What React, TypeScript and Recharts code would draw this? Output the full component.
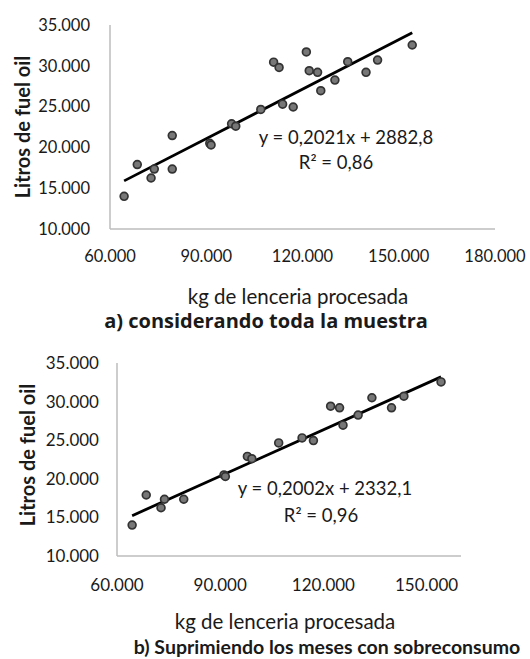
import { ReferenceLine, Scatter, ScatterChart, XAxis, YAxis } from "recharts";

// kg de lencería procesada / litros de fuel oil por mes
const kgLenceria = [
  64400, 68500, 72800, 73800, 79400, 79400, 91100, 91500, 97900, 99200, 107000, 111000,
  112700, 113800, 117100, 121200, 122100, 124700, 125700, 130100, 134100, 139800, 143400, 154200
];
const litrosFuelOil = [
  14000, 17900, 16250, 17350, 21450, 17350, 20500, 20300, 22900, 22600, 24650, 30450,
  29800, 25300, 24950, 31700, 29400, 29200, 26950, 28250, 30500, 29200, 30700, 32550
];
// meses con sobreconsumo (índices), suprimidos en b)
const mesesSobreconsumo = [4, 11, 12, 15];

const yTicks = [10000, 15000, 20000, 25000, 30000, 35000];
const xTicksA = [60000, 90000, 120000, 150000, 180000];
const xTicksB = [60000, 90000, 120000, 150000];

const trendA = { slope: 0.2021, intercept: 2882.8, eq: "y = 0,2021x + 2882,8", r2: "R² = 0,86" };
const trendB = { slope: 0.2002, intercept: 2332.1, eq: "y = 0,2002x + 2332,1", r2: "R² = 0,96" };

const FONT = "Lato, 'Open Sans', sans-serif";
const TEXT = "#1a1a1a";
const AXIS = "#bdbdbd";

interface Point {
  x: number;
  y: number;
}

const allPoints: Point[] = kgLenceria.map((x, i) => ({ x, y: litrosFuelOil[i] }));
const cleanPoints: Point[] = allPoints.filter((_, i) => !mesesSobreconsumo.includes(i));

function formatMiles(value: number): string {
  return String(value).replace(/\B(?=(\d{3})+(?!\d))/g, ".");
}

function Dot(props: { cx?: number; cy?: number }) {
  const { cx, cy } = props;
  if (cx == null || cy == null) return null;
  return <circle cx={cx} cy={cy} r={3.9} fill="#777777" stroke="#333333" strokeWidth={1.7} />;
}

interface TxtProps {
  x: number;
  y: number;
  size: number;
  bold?: boolean;
  rotate?: boolean;
  font?: string;
  children: string;
}

function Txt({ x, y, size, bold, rotate, font, children }: TxtProps) {
  return (
    <div
      style={{
        position: "absolute",
        left: x,
        top: y,
        transform: `translate(-50%, -50%)${rotate ? " rotate(-90deg)" : ""}`,
        whiteSpace: "nowrap",
        fontFamily: font ?? FONT,
        fontSize: size,
        fontWeight: bold ? 700 : 400,
        lineHeight: 1,
        color: TEXT
      }}
    >
      {children}
    </div>
  );
}

interface PanelProps {
  points: Point[];
  top: number;
  height: number;
  margin: { top: number; right: number; bottom: number; left: number };
  yAxisWidth: number;
  xDomain: [number, number];
  xTicks: number[];
  trend: { slope: number; intercept: number };
  yTickMargin: number;
  xTickMargin: number;
  tickSize: number;
}

function Panel({ points, top, height, margin, yAxisWidth, xDomain, xTicks, trend, yTickMargin, xTickMargin, tickSize }: PanelProps) {
  const xs = points.map((p) => p.x);
  const x0 = Math.min(...xs);
  const x1 = Math.max(...xs);
  const segment = [
    { x: x0, y: trend.slope * x0 + trend.intercept },
    { x: x1, y: trend.slope * x1 + trend.intercept }
  ];

  return (
    <div style={{ position: "absolute", left: 0, top }}>
      <ScatterChart width={530} height={height} margin={margin}>
        <XAxis
          type="number"
          dataKey="x"
          domain={xDomain}
          ticks={xTicks}
          allowDataOverflow
          tickFormatter={formatMiles}
          tickLine={false}
          tickSize={0}
          tickMargin={xTickMargin}
          height={40}
          axisLine={{ stroke: AXIS, strokeWidth: 1.5 }}
          tick={{ fill: TEXT, fontSize: tickSize, fontFamily: FONT }}
        />
        <YAxis
          type="number"
          dataKey="y"
          domain={[10000, 35000]}
          ticks={yTicks}
          allowDataOverflow
          tickFormatter={formatMiles}
          tickLine={false}
          tickSize={0}
          tickMargin={yTickMargin}
          width={yAxisWidth}
          axisLine={{ stroke: AXIS, strokeWidth: 1.5 }}
          tick={{ fill: TEXT, fontSize: tickSize, fontFamily: FONT }}
        />
        <Scatter data={points} shape={<Dot />} isAnimationActive={false} />
        <ReferenceLine segment={segment} stroke="#000000" strokeWidth={2.8} ifOverflow="visible" />
      </ScatterChart>
    </div>
  );
}

export default function App() {
  return (
    <div style={{ position: "absolute", left: 0, top: 0, width: 530, height: 659, background: "#ffffff", overflow: "hidden" }}>
      <Panel
        points={allPoints}
        top={0}
        height={330}
        margin={{ top: 25, right: 35, bottom: 61, left: 0 }}
        yAxisWidth={110}
        xDomain={[60000, 180000]}
        xTicks={xTicksA}
        trend={trendA}
        yTickMargin={20}
        xTickMargin={21}
        tickSize={16.5}
      />
      <Panel
        points={cleanPoints}
        top={330}
        height={329}
        margin={{ top: 33, right: 69, bottom: 63, left: 0 }}
        yAxisWidth={117}
        xDomain={[60000, 160000]}
        xTicks={xTicksB}
        trend={trendB}
        yTickMargin={18}
        xTickMargin={23}
        tickSize={17}
      />

      <Txt x={22} y={127} size={20} bold rotate>Litros de fuel oil</Txt>
      <Txt x={346} y={137} size={18.5}>{trendA.eq}</Txt>
      <Txt x={336} y={162} size={18.5}>{trendA.r2}</Txt>
      <Txt x={298} y={296} size={20.5}>kg de lenceria procesada</Txt>
      <Txt x={266} y={321} size={20} bold font="'Open Sans', sans-serif">a) considerando toda la muestra</Txt>

      <Txt x={27} y={455} size={20} bold rotate>Litros de fuel oil</Txt>
      <Txt x={325} y={488} size={18.5}>{trendB.eq}</Txt>
      <Txt x={321} y={515} size={18.5}>{trendB.r2}</Txt>
      <Txt x={285} y={621} size={20.5}>kg de lenceria procesada</Txt>
      <Txt x={327} y={647} size={19.5} bold>b) Suprimiendo los meses con sobreconsumo</Txt>
    </div>
  );
}
